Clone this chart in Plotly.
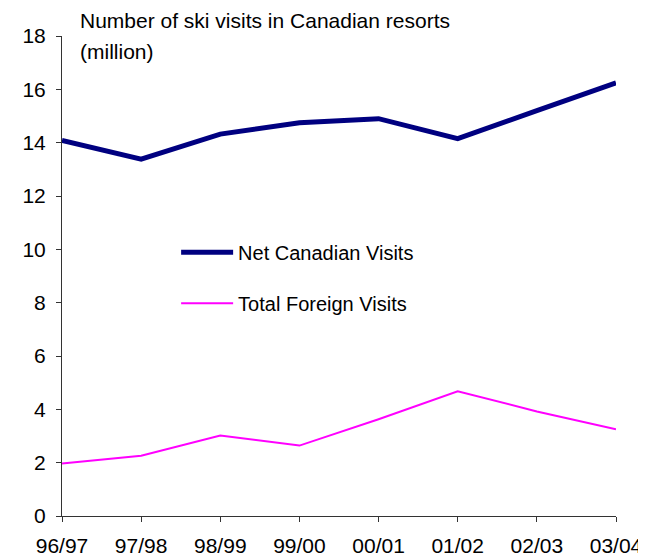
import plotly.graph_objects as go

seasons = ["96/97", "97/98", "98/99", "99/00", "00/01", "01/02", "02/03", "03/04"]
net_canadian = [14.08, 13.38, 14.32, 14.75, 14.90, 14.15, 15.20, 16.24]
total_foreign = [1.97, 2.26, 3.02, 2.64, 3.63, 4.68, 3.92, 3.25]

x_idx = list(range(len(seasons)))
FONT = "Liberation Sans, Arial, sans-serif"

fig = go.Figure()
fig.add_trace(go.Scatter(x=x_idx, y=net_canadian, mode="lines", name="Net Canadian Visits",
                         legendgroup="a",
                         line=dict(color="#000080", width=5)))
fig.add_trace(go.Scatter(x=x_idx, y=total_foreign, mode="lines", name="Total Foreign Visits",
                         legendgroup="b",
                         line=dict(color="#FF00FF", width=2)))

# page body has an 8px margin, so the figure is sized/offset to compensate
fig.update_layout(
    width=638, height=548,
    margin=dict(l=54, r=30, t=28, b=40, autoexpand=False),
    paper_bgcolor="white", plot_bgcolor="white",
    font=dict(family=FONT, size=21, color="black"),
    showlegend=True,
    legend=dict(x=0.206, y=0.59, xanchor="left", yanchor="top",
                bgcolor="rgba(0,0,0,0)", font=dict(size=20),
                tracegroupgap=22, itemwidth=52),
    xaxis=dict(range=[0, 7], tickmode="array", tickvals=x_idx, ticktext=seasons,
               showgrid=False, zeroline=False, showline=True, linecolor="#333", linewidth=1,
               ticks="outside", ticklen=5, tickcolor="#333", tickfont=dict(size=21),
               ticklabelstandoff=6, automargin=False),
    yaxis=dict(range=[0, 18], dtick=2, showgrid=False, zeroline=False,
               showline=True, linecolor="#333", linewidth=1,
               ticks="outside", ticklen=5, tickcolor="#333", tickfont=dict(size=21),
               ticklabelstandoff=6, automargin=False),
    annotations=[
        dict(text="Number of ski visits in Canadian resorts", xref="paper", yref="paper",
             x=0.0325, y=1.033, xanchor="left", yanchor="middle", showarrow=False,
             xshift=-2, font=dict(size=21)),
        dict(text="(million)", xref="paper", yref="paper",
             x=0.0325, y=0.967, xanchor="left", yanchor="middle", showarrow=False,
             xshift=-2, font=dict(size=21)),
    ],
)

fig.write_html("out.html")
